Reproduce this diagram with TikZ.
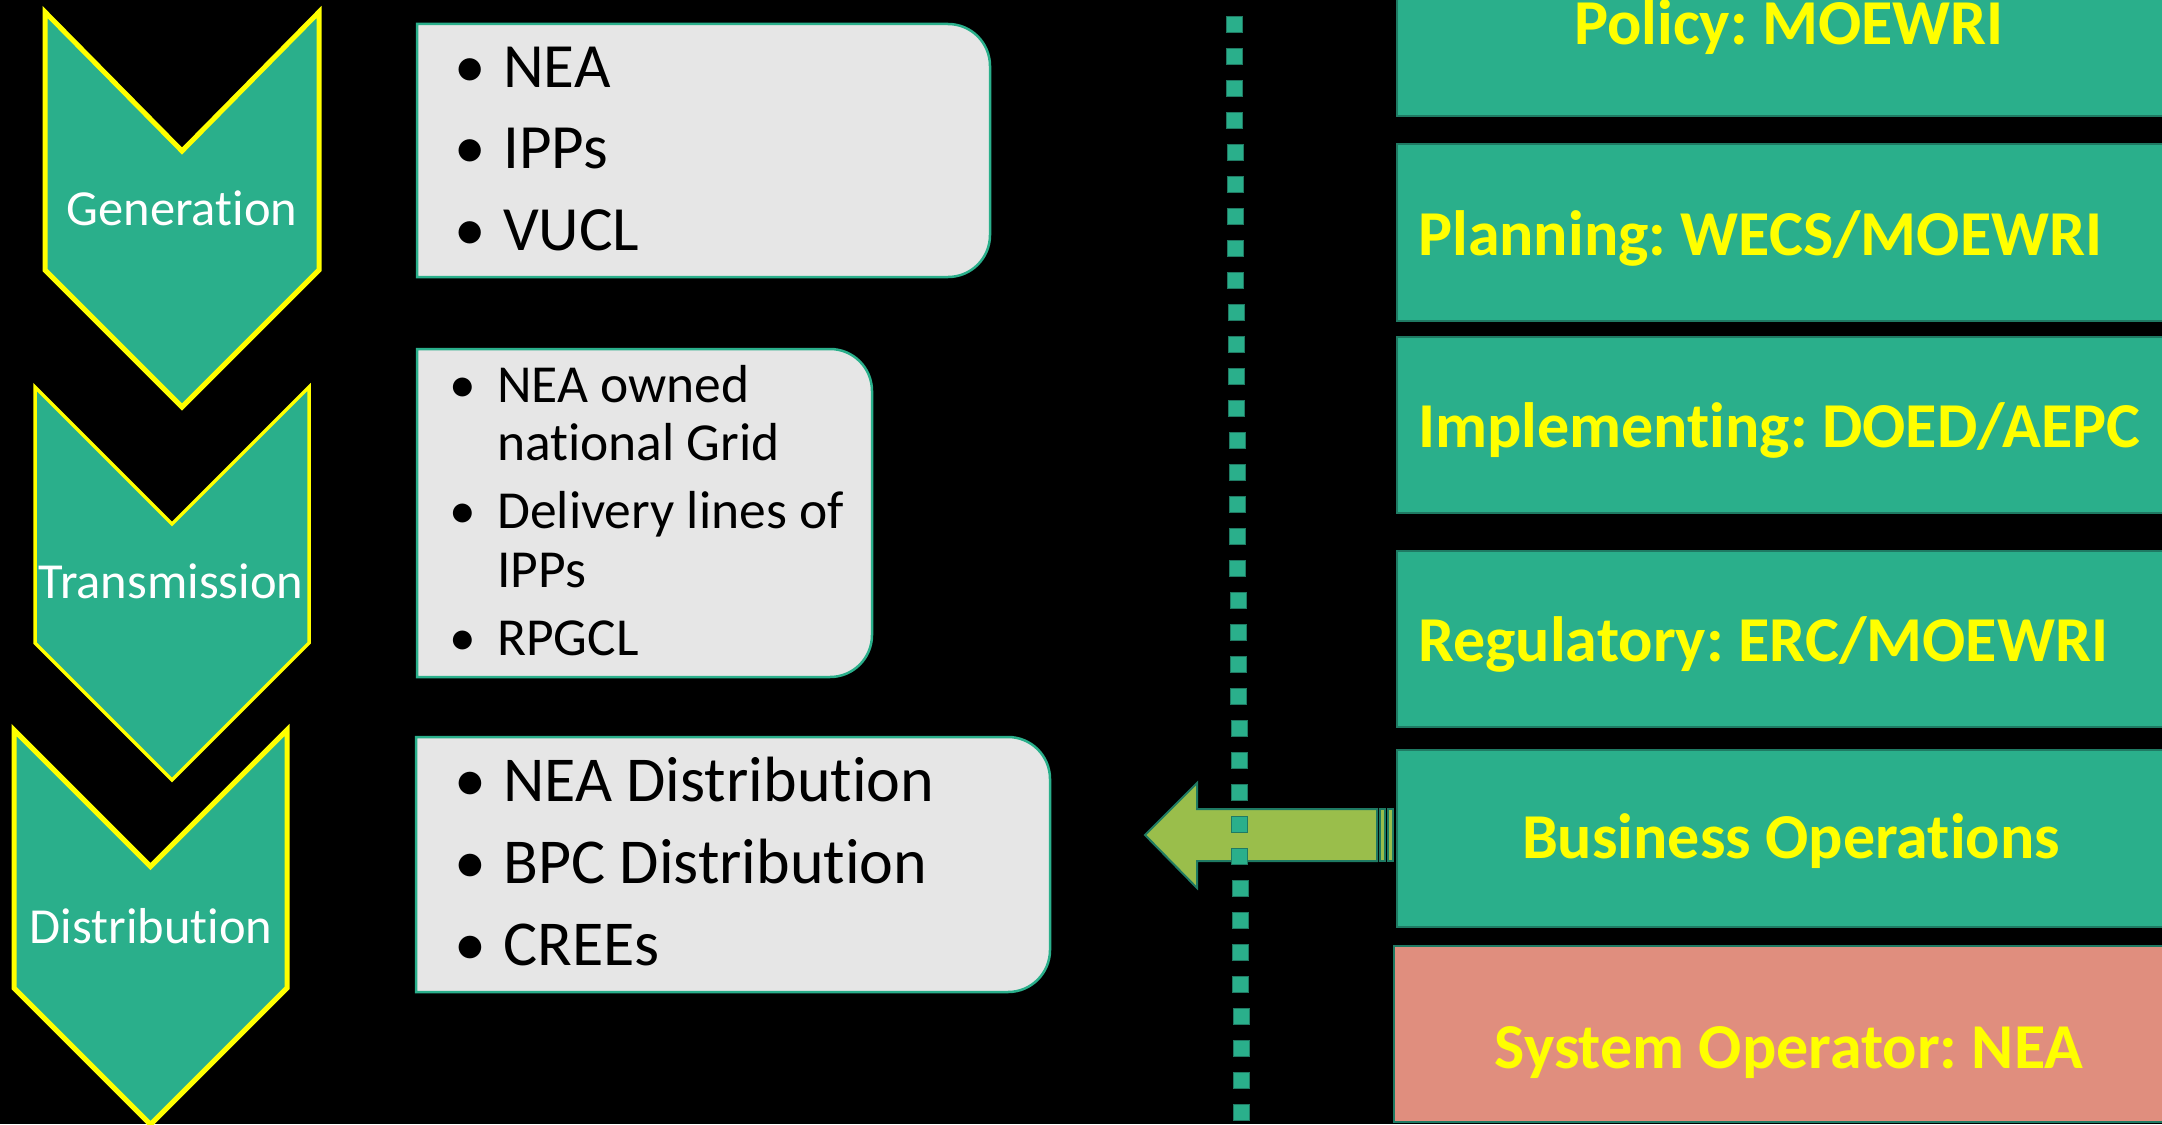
\documentclass[tikz,border=0pt]{standalone}
\usepackage{fontspec}
\setmainfont{Carlito}[Ligatures=NoCommon]
\frenchspacing
\definecolor{sgTeal}{HTML}{2AAF8B}
\definecolor{sgTealDark}{HTML}{1F7A63}
\definecolor{sgYellow}{HTML}{FFFF00}
\definecolor{sgGrey}{HTML}{E6E6E6}
\definecolor{sgGreen}{HTML}{9ABE4B}
\definecolor{sgSalmon}{HTML}{E08E7E}

% rounded-right list box: x1, y1, x2, y2 (corner radius 42)
\newcommand\listboxpath[4]{%
  \draw[listbox] (#1,#2) -- ({#3-42},#2)
    .. controls ({#3-18.8},#2) and (#3,{#2+18.8}) .. (#3,{#2+42})
    -- (#3,{#4-42})
    .. controls (#3,{#4-18.8}) and ({#3-18.8},#4) .. ({#3-42},#4)
    -- (#1,#4) -- cycle;}

\begin{document}
\begin{tikzpicture}[x=1pt,y=-1pt,
  chev/.style={fill=sgTeal, draw=sgYellow, line width=#1, line join=miter},
  chev/.default=5pt,
  stage/.style={text=white, font=\fontsize{50.5}{60}\selectfont, inner sep=0pt, anchor=base},
  listbox/.style={fill=sgGrey, draw=sgTeal, line width=2.5pt},
  bul/.style={text=black, inner sep=0pt, anchor=base},
  itm/.style={text=black, inner sep=0pt, anchor=base west},
  bigitem/.style={font=\fontsize{63}{70}\selectfont},
  miditem/.style={font=\fontsize{53.5}{60}\selectfont},
  bandbox/.style={fill=sgTeal, draw=sgTealDark, line width=2pt},
  opbox/.style={fill=sgSalmon, draw=sgTealDark, line width=2pt},
  bandtxt/.style={text=sgYellow, font=\fontsize{64}{70}\selectfont\bfseries, inner sep=0pt},
  blockarrow/.style={fill=sgGreen, draw=sgTealDark, line width=2pt, line join=miter},
  dotsq/.style={fill=sgTeal, draw=sgTealDark, line width=0.8pt}
]
\clip (0,0) rectangle (2162,1124);
\fill[black] (0,0) rectangle (2162,1124);

% responsibility bands on the right
\draw[bandbox] (1397,-61) rectangle (2200,116);
\draw[bandbox] (1397,144) rectangle (2200,321);
\draw[bandbox] (1397,337) rectangle (2200,513);
\draw[bandbox] (1397,551) rectangle (2200,727);
\draw[bandbox] (1397,750) rectangle (2200,927);
\draw[opbox]   (1394,946) rectangle (2200,1122);

\node[bandtxt, anchor=base] (policy) at (1789,45) {Policy: MOEWRI};
\node[bandtxt, anchor=base west] (planning) at (1418,255) {Planning: WECS/MOEWRI};
\node[bandtxt, anchor=base west] (implementing) at (1418,447) {Implementing: DOED/AEPC};
\node[bandtxt, anchor=base west] (regulatory) at (1418,661) {Regulatory: ERC/MOEWRI};
\node[bandtxt, anchor=base] (business) at (1791,858) {Business Operations};
\node[bandtxt, anchor=base] (sysop) at (1789,1068) {System Operator: NEA};

% striped block arrow pointing left from the business band
\draw[blockarrow] (1145,835) -- (1197,783) -- (1197,809) -- (1377,809)
  -- (1377,861) -- (1197,861) -- (1197,888) -- cycle;
\draw[blockarrow] (1380,809) rectangle (1385,861);
\draw[blockarrow] (1388,809) rectangle (1393,861);

% dotted separator
\foreach \i in {0,...,34}{
  \pgfmathsetmacro\yy{16+32*\i}
  \pgfmathsetmacro\xx{1234+0.007*(\yy-16)}
  \draw[dotsq] (\xx-8,\yy) rectangle (\xx+8,\yy+16);
}

% list boxes
\listboxpath{417}{24}{990}{277}
\listboxpath{417}{349}{872}{677}
\listboxpath{416}{737}{1050}{992}

\begin{scope}[bigitem]
\node[bul] (b1a) at (470,87) {•};
\node[itm] (t1a) at (503,87) {NEA};
\node[bul] (b1b) at (470,168) {•};
\node[itm] (t1b) at (503,168) {IPPs};
\node[bul] (b1c) at (470,250) {•};
\node[itm] (t1c) at (503,250) {VUCL};
\end{scope}

\begin{scope}[miditem]
\node[bul] (b2a) at (463,402) {•};
\node[itm] (t2a) at (497,402) {NEA owned};
\node[itm] (t2b) at (497,460) {national Grid};
\node[bul] (b2c) at (463,528) {•};
\node[itm] (t2c) at (497,528) {Delivery lines of};
\node[itm] (t2d) at (497,587) {IPPs};
\node[bul] (b2e) at (463,655) {•};
\node[itm] (t2e) at (497,655) {RPGCL};
\end{scope}

\begin{scope}[font=\fontsize{64}{70}\selectfont]
\node[bul] (b3a) at (470,801) {•};
\node[itm] (t3a) at (503,801) {NEA Distribution};
\node[bul] (b3b) at (470,883) {•};
\node[itm] (t3b) at (503,883) {BPC Distribution};
\node[bul] (b3c) at (470,965) {•};
\node[itm] (t3c) at (503,965) {CREEs};
\end{scope}

% value-chain chevrons
\draw[chev] (45,12) -- (182,151) -- (319,12) -- (319,270) -- (182,407) -- (45,270) -- cycle;
\draw[chev=3.5pt] (35,387) -- (172,524) -- (309,387) -- (309,643) -- (172,780) -- (35,643) -- cycle;
\draw[chev] (14,730) -- (150.5,866.5) -- (287,730) -- (287,988) -- (150.5,1124.5) -- (14,988) -- cycle;

\node[stage] (gen) at (182,225) {Generation};
\node[stage] (trans) at (171,598) {Transmission};
\node[stage] (dist) at (151,943) {Distribution};
\end{tikzpicture}
\end{document}
